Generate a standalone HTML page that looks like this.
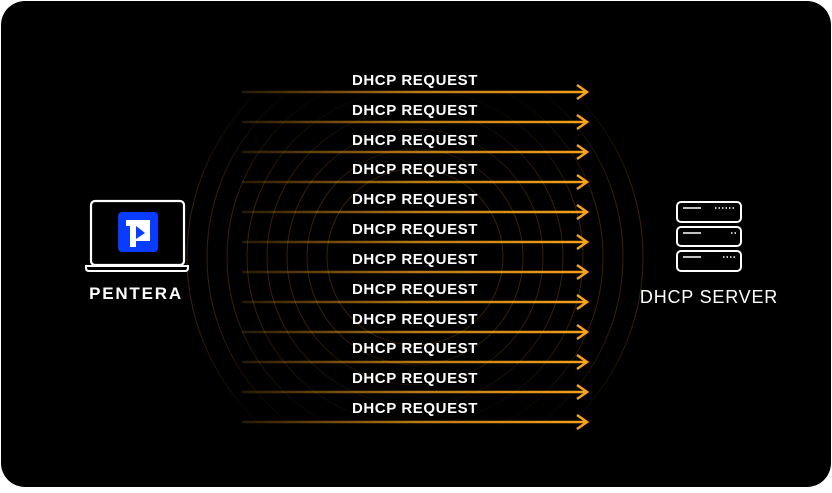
<!DOCTYPE html>
<html><head><meta charset="utf-8"><style>
html,body{margin:0;padding:0;background:#fff;}
body{width:832px;height:488px;overflow:hidden;font-family:"Liberation Sans",sans-serif;}
</style></head><body>
<svg width="832" height="488" viewBox="0 0 832 488" xmlns="http://www.w3.org/2000/svg">
<defs>
<linearGradient id="lg" x1="242" y1="0" x2="590" y2="0" gradientUnits="userSpaceOnUse">
<stop offset="0" stop-color="#f7a21b" stop-opacity="0.15"/>
<stop offset="0.5" stop-color="#f7a21b" stop-opacity="0.75"/>
<stop offset="1" stop-color="#f7a21b"/>
</linearGradient>
<linearGradient id="mg" x1="0" y1="75" x2="0" y2="440" gradientUnits="userSpaceOnUse">
<stop offset="0" stop-color="#fff" stop-opacity="0"/>
<stop offset="0.35" stop-color="#fff" stop-opacity="1"/>
<stop offset="0.65" stop-color="#fff" stop-opacity="1"/>
<stop offset="1" stop-color="#fff" stop-opacity="0"/>
</linearGradient>
<mask id="mk"><rect x="150" y="75" width="540" height="365" fill="url(#mg)"/></mask>
</defs>
<rect x="1" y="1" width="830" height="486" rx="24" fill="#000"/>
<g mask="url(#mk)" fill="none" stroke="#6b4510" stroke-width="1" opacity="0.5">
<circle cx="415" cy="257" r="88"/>
<circle cx="415" cy="257" r="108"/>
<circle cx="415" cy="257" r="128"/>
<circle cx="415" cy="257" r="148"/>
<circle cx="415" cy="257" r="168"/>
<circle cx="415" cy="257" r="188"/>
<circle cx="415" cy="257" r="208"/>
<circle cx="415" cy="257" r="228"/>
</g>
<g font-size="15" font-weight="bold" fill="#fff" text-anchor="middle" letter-spacing="0.6">
<text x="415" y="85">DHCP REQUEST</text>
<text x="415" y="115">DHCP REQUEST</text>
<text x="415" y="145">DHCP REQUEST</text>
<text x="415" y="174">DHCP REQUEST</text>
<text x="415" y="204">DHCP REQUEST</text>
<text x="415" y="234">DHCP REQUEST</text>
<text x="415" y="264">DHCP REQUEST</text>
<text x="415" y="294">DHCP REQUEST</text>
<text x="415" y="324">DHCP REQUEST</text>
<text x="415" y="353">DHCP REQUEST</text>
<text x="415" y="383">DHCP REQUEST</text>
<text x="415" y="413">DHCP REQUEST</text>
</g>
<g stroke-width="2.5" fill="none">
<g stroke="url(#lg)">
<line x1="242" y1="92" x2="586" y2="92"/><line x1="242" y1="122" x2="586" y2="122"/>
<line x1="242" y1="152" x2="586" y2="152"/><line x1="242" y1="182" x2="586" y2="182"/>
<line x1="242" y1="212" x2="586" y2="212"/><line x1="242" y1="242" x2="586" y2="242"/>
<line x1="242" y1="272" x2="586" y2="272"/><line x1="242" y1="302" x2="586" y2="302"/>
<line x1="242" y1="332" x2="586" y2="332"/><line x1="242" y1="362" x2="586" y2="362"/>
<line x1="242" y1="392" x2="586" y2="392"/><line x1="242" y1="422" x2="586" y2="422"/>
</g>
<g stroke="#f7a21b" stroke-linejoin="miter">
<polyline points="577,85 587,92 577,99"/><polyline points="577,115 587,122 577,129"/>
<polyline points="577,145 587,152 577,159"/><polyline points="577,175 587,182 577,189"/>
<polyline points="577,205 587,212 577,219"/><polyline points="577,235 587,242 577,249"/>
<polyline points="577,265 587,272 577,279"/><polyline points="577,295 587,302 577,309"/>
<polyline points="577,325 587,332 577,339"/><polyline points="577,355 587,362 577,369"/>
<polyline points="577,385 587,392 577,399"/><polyline points="577,415 587,422 577,429"/>
</g>
</g>
<rect x="91" y="201" width="93" height="64" rx="4" fill="none" stroke="#fff" stroke-width="2.2"/>
<path d="M86 266 H188 V268 Q188 271 185 271 H89 Q86 271 86 268 Z" fill="none" stroke="#fff" stroke-width="2"/>
<rect x="118" y="212" width="40" height="40" rx="4" fill="#0a3cff"/>
<path d="M126 220 H150 V241 H136 V247 H130 V226 H126 Z" fill="#fff"/>
<path d="M136 226 L145 233 L136 239 Z" fill="#0a3cff"/>
<text x="136" y="299" font-size="17" font-weight="bold" fill="#fff" text-anchor="middle" letter-spacing="1.8">PENTERA</text>
<g fill="none" stroke="#fff" stroke-width="2">
<rect x="677" y="202" width="64" height="20" rx="4"/>
<rect x="677" y="227" width="64" height="19" rx="4"/>
<rect x="677" y="251" width="64" height="20" rx="4"/>
<line x1="683" y1="208" x2="701" y2="208" stroke-width="1.5"/>
<line x1="683" y1="233" x2="701" y2="233" stroke-width="1.5"/>
<line x1="683" y1="257" x2="701" y2="257" stroke-width="1.5"/>
<line x1="715" y1="208" x2="736" y2="208" stroke-width="1.5" stroke-dasharray="1.5 2"/>
<line x1="731" y1="233" x2="736" y2="233" stroke-width="1.5" stroke-dasharray="1.5 2"/>
<line x1="723" y1="257" x2="736" y2="257" stroke-width="1.5" stroke-dasharray="1.5 2"/>
</g>
<text x="709" y="303" font-size="18" fill="#fff" text-anchor="middle" letter-spacing="0.8">DHCP SERVER</text>
</svg>
</body></html>
